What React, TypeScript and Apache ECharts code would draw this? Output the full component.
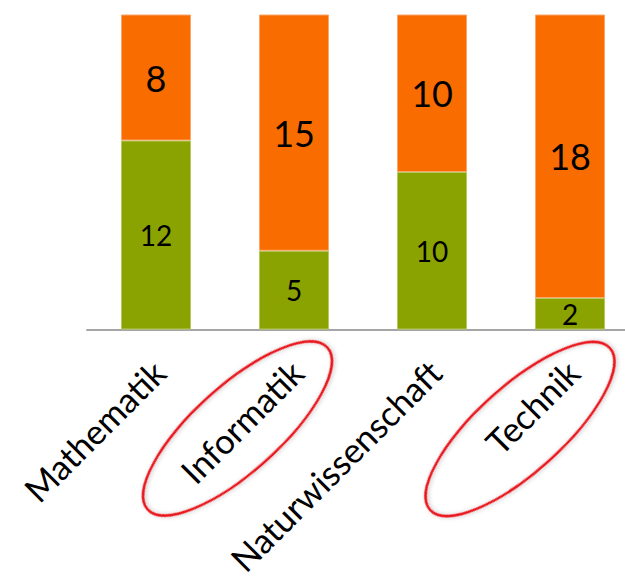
import React, { useEffect, useRef } from "react";
import * as echarts from "echarts";

// Subjects on the category axis
const categories = ["Mathematik", "Informatik", "Naturwissenschaft", "Technik"];
// Lower (green) and upper (orange) stacked segments
const greenValues = [12, 5, 10, 2];
const orangeValues = [8, 15, 10, 18];
// Value axis range
const valueMin = 0;
const valueMax = 20;

const GREEN = "#8BA300";
const ORANGE = "#F96D00";
const FONT = "Lato, 'Open Sans', sans-serif";

export default function App() {
  const ref = useRef<HTMLDivElement>(null);

  useEffect(() => {
    if (!ref.current) return;
    const chart = echarts.init(ref.current, undefined, { renderer: "svg" });

    const ellipse = (x: number, y: number) => ({
      type: "ellipse",
      x,
      y,
      rotation: (42 * Math.PI) / 180,
      shape: { cx: 0, cy: 0, rx: 121, ry: 43 },
      style: {
        fill: "none",
        stroke: "#E8141B",
        lineWidth: 2.5,
        shadowBlur: 4,
        shadowColor: "rgba(0,0,0,0.25)",
        shadowOffsetX: 1,
        shadowOffsetY: 1,
      },
      z: 10,
    });

    chart.setOption({
      animation: false,
      backgroundColor: "#ffffff",
      grid: {
        left: 87,
        top: 14.5,
        width: 552,
        height: 315,
        containLabel: false,
        outerBoundsMode: "none",
      },
      xAxis: {
        type: "category",
        data: categories,
        axisLine: { show: true, lineStyle: { color: "#A6A6A6", width: 2 } },
        axisTick: { show: false },
        axisLabel: {
          interval: 0,
          rotate: 45,
          margin: 34,
          color: "#000000",
          fontFamily: FONT,
          fontSize: 34.5,
          verticalAlign: "top",
          lineHeight: 8,
        },
      },
      yAxis: {
        type: "value",
        min: valueMin,
        max: valueMax,
        show: false,
        splitLine: { show: false },
      },
      series: [
        {
          name: "green",
          type: "bar",
          stack: "total",
          barWidth: 70,
          data: greenValues,
          itemStyle: { color: GREEN, borderColor: "#B4C95E", borderWidth: 1 },
          label: {
            show: true,
            position: "inside",
            color: "#000000",
            fontFamily: FONT,
            fontSize: 28,
          },
        },
        {
          name: "orange",
          type: "bar",
          stack: "total",
          barWidth: 70,
          data: orangeValues,
          itemStyle: { color: ORANGE, borderColor: "#FBA66A", borderWidth: 1 },
          label: {
            show: true,
            position: "inside",
            color: "#000000",
            fontFamily: FONT,
            fontSize: 36,
          },
        },
      ],
      graphic: [ellipse(237.5, 428.5), ellipse(520, 429)],
    });

    return () => chart.dispose();
  }, []);

  return (
    <div
      ref={ref}
      style={{ position: "fixed", left: 0, top: 0, width: 625, height: 576 }}
    />
  );
}
